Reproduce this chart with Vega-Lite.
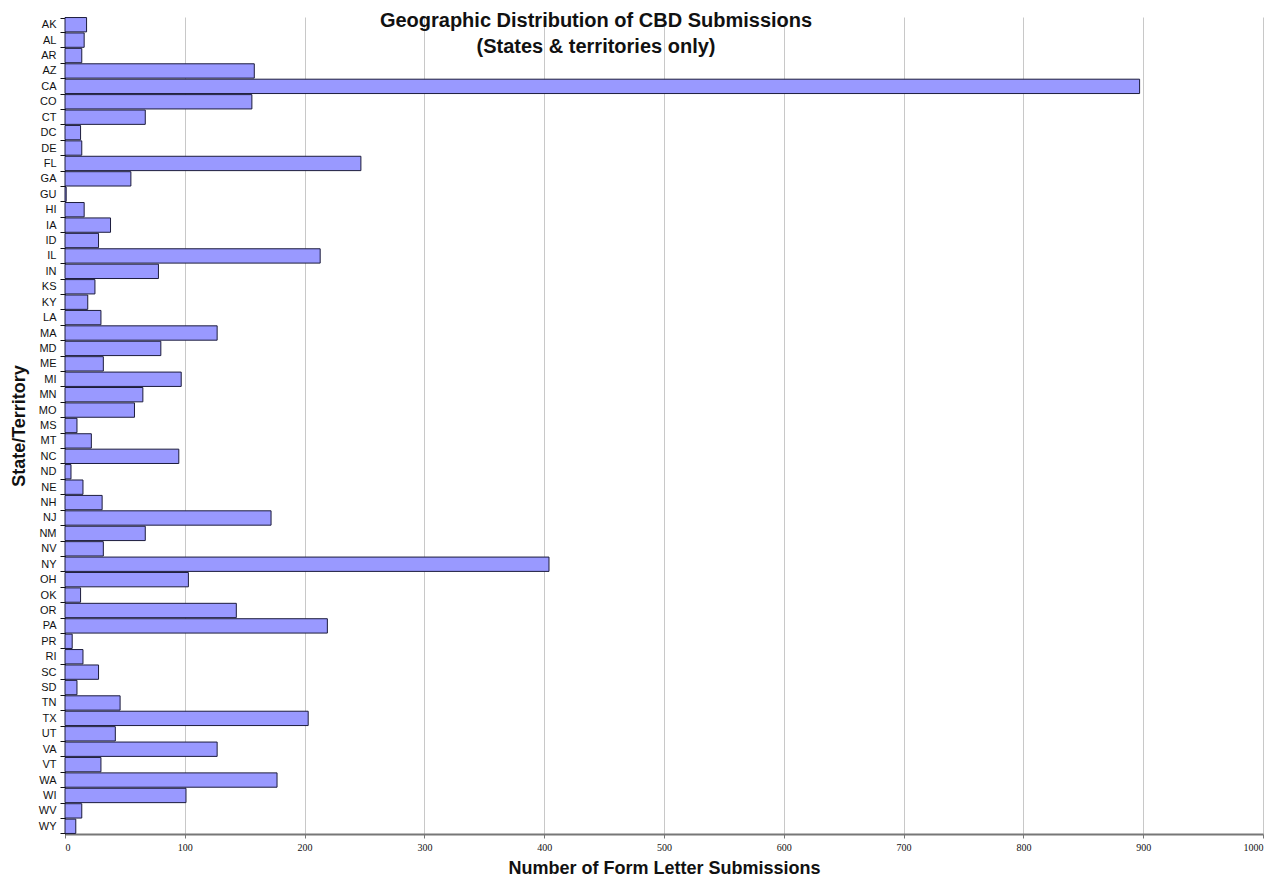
{
  "$schema": "https://vega.github.io/schema/vega-lite/v6.json",
  "autosize": "none",
  "width": 1198,
  "height": 817,
  "padding": {"left": 65, "top": 17, "right": 15, "bottom": 44},
  "background": "white",
  "config": {
    "view": {"stroke": null},
    "font": "Liberation Sans"
  },
  "title": {
    "text": ["Geographic Distribution of CBD Submissions", "(States & territories only)"],
    "font": "Liberation Sans",
    "fontSize": 20,
    "fontWeight": "bold",
    "color": "#111111",
    "lineHeight": 26,
    "anchor": "middle",
    "dx": -68,
    "offset": -46
  },
  "data": {
    "values": [
      {"state": "AK", "count": 18},
      {"state": "AL", "count": 16},
      {"state": "AR", "count": 14},
      {"state": "AZ", "count": 158},
      {"state": "CA", "count": 897},
      {"state": "CO", "count": 156},
      {"state": "CT", "count": 67},
      {"state": "DC", "count": 13},
      {"state": "DE", "count": 14},
      {"state": "FL", "count": 247},
      {"state": "GA", "count": 55},
      {"state": "GU", "count": 1},
      {"state": "HI", "count": 16},
      {"state": "IA", "count": 38},
      {"state": "ID", "count": 28},
      {"state": "IL", "count": 213},
      {"state": "IN", "count": 78},
      {"state": "KS", "count": 25},
      {"state": "KY", "count": 19},
      {"state": "LA", "count": 30},
      {"state": "MA", "count": 127},
      {"state": "MD", "count": 80},
      {"state": "ME", "count": 32},
      {"state": "MI", "count": 97},
      {"state": "MN", "count": 65},
      {"state": "MO", "count": 58},
      {"state": "MS", "count": 10},
      {"state": "MT", "count": 22},
      {"state": "NC", "count": 95},
      {"state": "ND", "count": 5},
      {"state": "NE", "count": 15},
      {"state": "NH", "count": 31},
      {"state": "NJ", "count": 172},
      {"state": "NM", "count": 67},
      {"state": "NV", "count": 32},
      {"state": "NY", "count": 404},
      {"state": "OH", "count": 103},
      {"state": "OK", "count": 13},
      {"state": "OR", "count": 143},
      {"state": "PA", "count": 219},
      {"state": "PR", "count": 6},
      {"state": "RI", "count": 15},
      {"state": "SC", "count": 28},
      {"state": "SD", "count": 10},
      {"state": "TN", "count": 46},
      {"state": "TX", "count": 203},
      {"state": "UT", "count": 42},
      {"state": "VA", "count": 127},
      {"state": "VT", "count": 30},
      {"state": "WA", "count": 177},
      {"state": "WI", "count": 101},
      {"state": "WV", "count": 14},
      {"state": "WY", "count": 9}
    ]
  },
  "mark": {
    "type": "bar",
    "fill": "#9999ff",
    "stroke": "#1c1c3c",
    "strokeWidth": 1
  },
  "encoding": {
    "y": {
      "field": "state",
      "type": "nominal",
      "sort": null,
      "scale": {"paddingInner": 0.07, "paddingOuter": 0.035},
      "axis": {
        "title": "State/Territory",
        "titleFont": "Liberation Sans",
        "titleFontSize": 18,
        "titleFontWeight": "bold",
        "titleColor": "#111111",
        "titlePadding": 10,
        "labelFont": "Liberation Sans",
        "labelFontSize": 11,
        "labelColor": "#111111",
        "labelPadding": 4,
        "tickBand": "extent",
        "tickSize": 5,
        "tickColor": "#111111",
        "domainColor": "#111111",
        "domainWidth": 1,
        "grid": false
      }
    },
    "x": {
      "field": "count",
      "type": "quantitative",
      "scale": {"domain": [0, 1000], "nice": false},
      "axis": {
        "title": "Number of Form Letter Submissions",
        "titleFont": "Liberation Sans",
        "titleFontSize": 18,
        "titleFontWeight": "bold",
        "titleColor": "#111111",
        "titlePadding": 7,
        "values": [0, 100, 200, 300, 400, 500, 600, 700, 800, 900, 1000],
        "format": "d",
        "labelFont": "Liberation Sans Narrow",
        "labelFontSize": 10,
        "labelColor": "#111111",
        "labelPadding": 4,
        "tickSize": 4,
        "tickColor": "#777777",
        "domainColor": "#777777",
        "domainWidth": 2,
        "grid": true,
        "gridColor": "#c8c8c8",
        "gridWidth": 1
      }
    }
  }
}
